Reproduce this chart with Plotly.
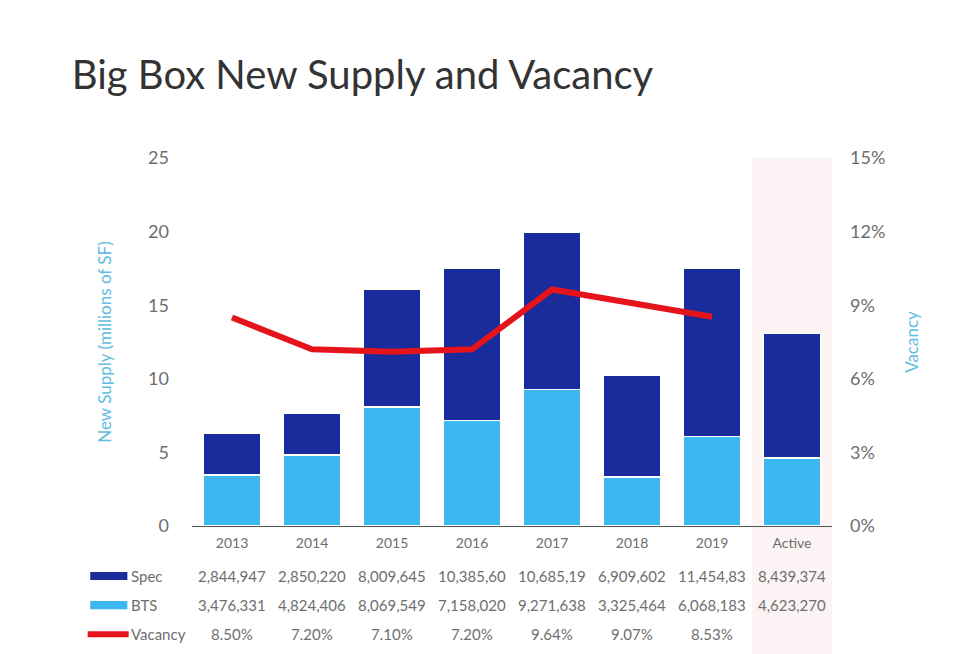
import plotly.graph_objects as go

# data
categories = ['2013', '2014', '2015', '2016', '2017', '2018', '2019', 'Active']
spec_sf = [2844947, 2850220, 8009645, 10385600, 10685190, 6909602, 11454830, 8439374]
bts_sf = [3476331, 4824406, 8069549, 7158020, 9271638, 3325464, 6068183, 4623270]
vacancy = [8.50, 7.20, 7.10, 7.20, 9.64, 9.07, 8.53, None]

SPEC_COLOR = '#1a2c9c'
BTS_COLOR = '#3db7f0'
VAC_COLOR = '#e5141b'
TICK_COLOR = '#6e6e6e'
TITLE_BLUE = '#62bde0'
FONT = 'Lato, Open Sans, sans-serif'

fig = go.Figure()
fig.add_trace(go.Bar(x=categories, y=[v / 1e6 for v in bts_sf], name='BTS',
                     marker=dict(color=BTS_COLOR, line=dict(color='white', width=1.5))))
fig.add_trace(go.Bar(x=categories, y=[v / 1e6 for v in spec_sf], name='Spec',
                     marker=dict(color=SPEC_COLOR, line=dict(color='white', width=1.5))))
fig.add_trace(go.Scatter(x=categories, y=vacancy, name='Vacancy', yaxis='y2',
                         mode='lines', line=dict(color=VAC_COLOR, width=6)))

# table under the chart
row_y = {'Spec': -0.136, 'BTS': -0.215, 'Vacancy': -0.294}
TBL = dict(size=15, color=TICK_COLOR)
annotations = []
for i, c in enumerate(categories):
    annotations.append(dict(x=i, y=row_y['Spec'], xref='x', yref='paper', showarrow=False,
                            yanchor='middle', text=f'{spec_sf[i]:,}'[:9], font=TBL))
    annotations.append(dict(x=i, y=row_y['BTS'], xref='x', yref='paper', showarrow=False,
                            yanchor='middle', text=f'{bts_sf[i]:,}'[:9], font=TBL))
    if vacancy[i] is not None:
        annotations.append(dict(x=i, y=row_y['Vacancy'], xref='x', yref='paper', showarrow=False,
                                yanchor='middle', text=f'{vacancy[i]:.2f}%', font=TBL))
for name in ['Spec', 'BTS', 'Vacancy']:
    annotations.append(dict(x=-0.099, y=row_y[name], xref='paper', yref='paper', showarrow=False,
                            xanchor='left', yanchor='middle', text=name, font=TBL))

shapes = [
    # highlight band for Active column
    dict(type='rect', xref='x', yref='paper', x0=6.5, x1=7.5, y0=-0.36, y1=1.0,
         fillcolor='#fcf4f4', line_width=0, layer='below'),
    dict(type='rect', xref='paper', yref='paper', x0=-0.159, x1=-0.101,
         y0=row_y['Spec'] - 0.011, y1=row_y['Spec'] + 0.011, fillcolor=SPEC_COLOR, line_width=0),
    dict(type='rect', xref='paper', yref='paper', x0=-0.159, x1=-0.101,
         y0=row_y['BTS'] - 0.011, y1=row_y['BTS'] + 0.011, fillcolor=BTS_COLOR, line_width=0),
    dict(type='line', xref='paper', yref='paper', x0=-0.163, x1=-0.099,
         y0=row_y['Vacancy'], y1=row_y['Vacancy'], line=dict(color=VAC_COLOR, width=6)),
]

fig.update_layout(
    width=952, height=646,
    paper_bgcolor='white', plot_bgcolor='rgba(0,0,0,0)',
    font=dict(family=FONT, color=TICK_COLOR),
    title=dict(text='Big Box New Supply and Vacancy', x=0.067, xanchor='left',
               y=0.896, yanchor='middle', font=dict(size=40, color='#333333')),
    margin=dict(l=184, r=128, t=150, b=128),
    barmode='stack', bargap=0.28, showlegend=False,
    xaxis=dict(type='category', categoryorder='array', categoryarray=categories,
               range=[-0.5, 7.5], showgrid=False, showline=True, linecolor='#555555',
               linewidth=1, tickfont=dict(size=14, color=TICK_COLOR), ticks='',
               ticklabelstandoff=4),
    yaxis=dict(range=[0, 25], dtick=5, showgrid=False, zeroline=False, showline=False,
               tickfont=dict(size=18, color=TICK_COLOR), ticklabelstandoff=22,
               title=dict(text='New Supply (millions of SF)', standoff=32,
                          font=dict(size=17, color=TITLE_BLUE))),
    yaxis2=dict(range=[0, 15], dtick=3, overlaying='y', side='right', showgrid=False,
                zeroline=False, ticksuffix='%', tickfont=dict(size=18, color=TICK_COLOR),
                ticklabelstandoff=17,
                title=dict(text='Vacancy', standoff=21, font=dict(size=17, color=TITLE_BLUE))),
    annotations=annotations,
    shapes=shapes,
)

fig.write_html('out.html')
